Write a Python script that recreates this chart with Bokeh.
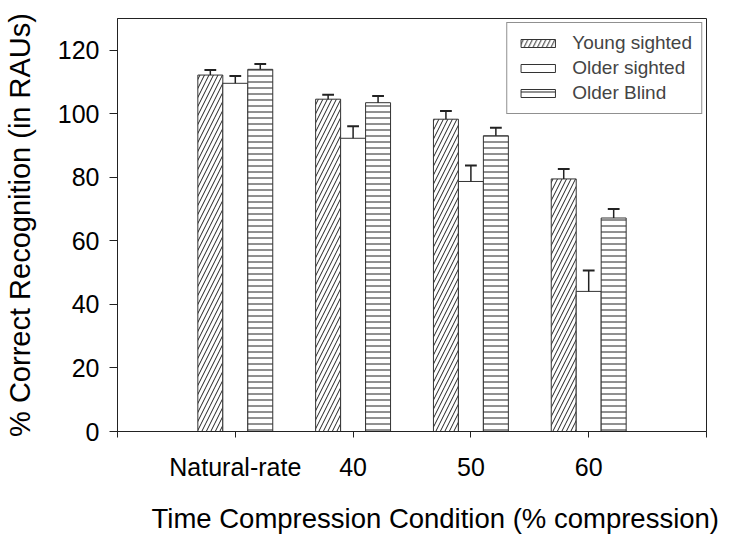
from bokeh.plotting import figure
from bokeh.models import ColumnDataSource, FixedTicker, Legend, LegendItem, Title
from bokeh.embed import file_html
from bokeh.resources import INLINE

# ---- data ----
categories = ["Natural-rate", "40", "50", "60"]
series_names = ["Young sighted", "Older sighted", "Older Blind"]
young_sighted = [112.2, 104.6, 98.3, 79.5]
older_sighted = [109.6, 92.3, 78.7, 44.1]
older_blind = [114.0, 103.5, 93.1, 67.2]
young_sighted_err = [1.6, 1.4, 2.6, 3.1]
older_sighted_err = [2.3, 3.8, 5.0, 6.6]
older_blind_err = [1.7, 2.1, 2.5, 2.8]
y_ticks = [0, 20, 40, 60, 80, 100, 120]

FONT = "Liberation Sans"
BAR_W = 0.212
group_pos = list(range(1, len(categories) + 1))

p = figure(frame_width=589, frame_height=413, x_range=(0, 5), y_range=(0, 130),
           output_backend="svg", toolbar_location=None,
           min_border_left=113, min_border_right=14, min_border_top=18,
           min_border_bottom=95)
p.background_fill_color = "white"
p.border_fill_color = "white"
p.outline_line_color = "#222222"
p.outline_line_width = 1
p.xgrid.visible = False
p.ygrid.visible = False

styles = [
    dict(hatch_pattern="/", hatch_scale=9),
    dict(hatch_pattern=" ", hatch_scale=6),
    dict(hatch_pattern="-", hatch_scale=6),
]
values = [young_sighted, older_sighted, older_blind]
errors = [young_sighted_err, older_sighted_err, older_blind_err]
offsets = [-BAR_W, 0.0, BAR_W]

items = []
for name, vals, errs, off, st in zip(series_names, values, errors, offsets, styles):
    xs = [g + off for g in group_pos]
    src = ColumnDataSource(dict(
        x=xs, top=vals,
        etop=[v + e for v, e in zip(vals, errs)],
        x0=[x - 0.05 for x in xs], x1=[x + 0.05 for x in xs],
    ))
    r = p.vbar(x="x", top="top", bottom=0, width=BAR_W, source=src,
               fill_color="white", line_color="#333333", line_width=1,
               hatch_color="#222222", hatch_weight=1, **st)
    p.segment(x0="x", y0="top", x1="x", y1="etop", source=src,
              line_color="#222222", line_width=1.5)
    p.segment(x0="x0", y0="etop", x1="x1", y1="etop", source=src,
              line_color="#222222", line_width=2)
    items.append(LegendItem(label=name, renderers=[r]))

legend = Legend(items=items, location="top_right")
legend.label_text_font = FONT
legend.label_text_font_size = "19px"
legend.glyph_width = 43
legend.glyph_height = 10
legend.label_standoff = 13
legend.spacing = 3
legend.padding = 9
legend.margin = 4
legend.border_line_color = "#222222"
legend.border_line_width = 1
legend.background_fill_alpha = 1
p.add_layout(legend)

# x axis
p.xaxis.ticker = FixedTicker(ticks=[0, 1, 2, 3, 4, 5])
overrides = {0: "", 5: ""}
for g, c in zip(group_pos, categories):
    overrides[g] = c
p.xaxis.major_label_overrides = overrides
p.xaxis.minor_tick_line_color = None
p.xaxis.major_tick_in = 0
p.xaxis.major_tick_out = 6
p.xaxis.major_label_standoff = 15

xtitle = Title(text="Time Compression Condition (% compression)", align="left",
               offset=34, standoff=35, text_font=FONT, text_font_size="27.5px",
               text_font_style="normal", text_color="black")
p.add_layout(xtitle, "below")

# y axis
p.yaxis.ticker = FixedTicker(ticks=y_ticks)
p.yaxis.minor_tick_line_color = None
p.yaxis.major_tick_in = 0
p.yaxis.major_tick_out = 8
p.yaxis.major_label_standoff = 10
p.yaxis.axis_label = "% Correct Recognition (in RAUs)"
p.yaxis.axis_label_standoff = 19
p.yaxis.axis_label_text_font_size = "29px"

for ax in (p.xaxis, p.yaxis):
    ax.axis_line_color = "#222222"
    ax.major_tick_line_color = "#222222"
    ax.major_label_text_font = FONT
    ax.major_label_text_font_size = "25px"
    ax.major_label_text_color = "black"
    ax.axis_label_text_font = FONT
    ax.axis_label_text_font_style = "normal"
    ax.axis_label_text_color = "black"

open("out.html", "w").write(file_html(p, INLINE))
